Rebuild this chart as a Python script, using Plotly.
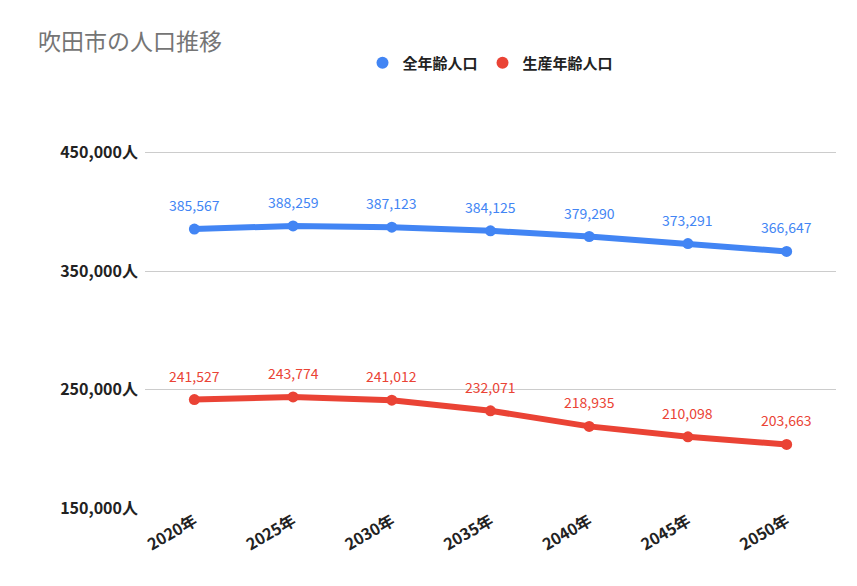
import plotly.graph_objects as go

years = ["2020年", "2025年", "2030年", "2035年", "2040年", "2045年", "2050年"]
total = [385567, 388259, 387123, 384125, 379290, 373291, 366647]
working = [241527, 243774, 241012, 232071, 218935, 210098, 203663]
tickvals = [150000, 250000, 350000, 450000]
ticktext = ["150,000人", "250,000人", "350,000人", "450,000人"]

font = "Noto Sans CJK JP"
fig = go.Figure()
for name, vals, col in [("全年齢人口", total, "#4285f4"), ("生産年齢人口", working, "#ea4335")]:
    fig.add_trace(go.Scatter(
        x=years, y=vals, name=name, mode="lines+markers", showlegend=False,
        line=dict(color=col, width=6), marker=dict(color=col, size=11),
    ))
    fig.add_trace(go.Scatter(x=[None], y=[None], name=name, mode="markers",
                             marker=dict(color=col, size=12)))
    for x, v in zip(years, vals):
        fig.add_annotation(x=x, y=v, text=f"{v:,}", showarrow=False, yshift=24,
                           font=dict(color=col, size=14, family=font))
fig.update_layout(
    width=857, height=586, plot_bgcolor="white", paper_bgcolor="white",
    margin=dict(l=137, r=29, t=143, b=86, autoexpand=False),
    title=dict(text="吹田市の人口推移", x=0.035, y=0.955, xanchor="left", yanchor="top",
               font=dict(size=23, color="#757575", family=font)),
    legend=dict(orientation="h", x=0.5, xanchor="center", y=1.2, yanchor="bottom",
                font=dict(size=15, color="#222", family=font, weight=700)),
    font=dict(family=font),
)
fig.update_yaxes(range=[150000, 451500], tickvals=tickvals, ticktext=ticktext,
                 gridcolor="#cccccc", zeroline=False, showline=False, automargin=False,
                 tickfont=dict(size=16, color="#222", weight=700), ticks="", ticklabelstandoff=6)
fig.update_xaxes(range=[-0.5, 6.5], tickangle=-30, showgrid=False, automargin=False,
                 tickfont=dict(size=16, color="#222", weight=700), showline=False)
fig.write_html("out.html")
